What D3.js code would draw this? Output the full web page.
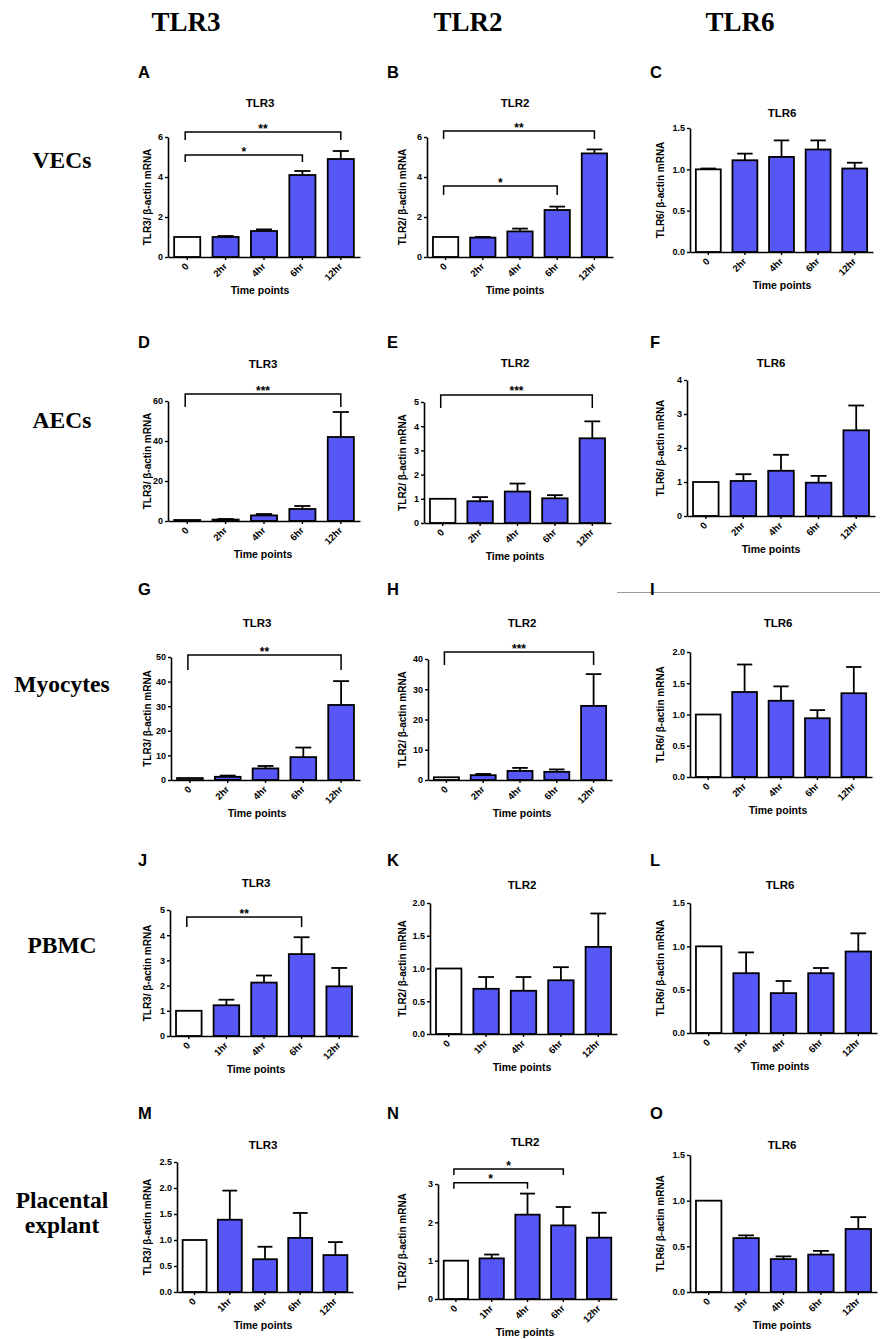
<!DOCTYPE html>
<html><head><meta charset="utf-8">
<script src="https://cdn.jsdelivr.net/npm/d3@7"></script>
<style>body{margin:0;background:#fff}svg{display:block}</style>
</head><body>
<svg id="fig" width="880" height="1339"></svg>
<script>
// ---------------- DATA ----------------
const columnHeaders = ["TLR3", "TLR2", "TLR6"];
const rowLabels = [["VECs"], ["AECs"], ["Myocytes"], ["PBMC"], ["Placental", "explant"]];
const timesEarly = ["0", "2hr", "4hr", "6hr", "12hr"];
const timesLate = ["0", "1hr", "4hr", "6hr", "12hr"];
const panelIds = ["A","B","C","D","E","F","G","H","I","J","K","L","M","N","O"];
const panelTitles = ["TLR3","TLR2","TLR6","TLR3","TLR2","TLR6","TLR3","TLR2","TLR6","TLR3","TLR2","TLR6","TLR3","TLR2","TLR6"];
const yLabels = {TLR3: "TLR3/ β-actin mRNA", TLR2: "TLR2/ β-actin mRNA", TLR6: "TLR6/ β-actin mRNA"};
const xTitle = "Time points";

// y tick values per panel
const ticksA = [0, 2, 4, 6];
const ticksB = [0, 2, 4, 6];
const ticksC = [0, 0.5, 1.0, 1.5];
const ticksD = [0, 20, 40, 60];
const ticksE = [0, 1, 2, 3, 4, 5];
const ticksF = [0, 1, 2, 3, 4];
const ticksG = [0, 10, 20, 30, 40, 50];
const ticksH = [0, 10, 20, 30, 40];
const ticksI = [0, 0.5, 1.0, 1.5, 2.0];
const ticksJ = [0, 1, 2, 3, 4, 5];
const ticksK = [0, 0.5, 1.0, 1.5, 2.0];
const ticksL = [0, 0.5, 1.0, 1.5];
const ticksM = [0, 0.5, 1.0, 1.5, 2.0, 2.5];
const ticksN = [0, 1, 2, 3];
const ticksO = [0, 0.5, 1.0, 1.5];

// mean values (fold change) and SEM per panel
const meanA = [1.0, 1.0, 1.3, 4.1, 4.9];     const semA = [0, 0.05, 0.08, 0.2, 0.4];
const meanB = [1.0, 0.97, 1.28, 2.35, 5.18]; const semB = [0, 0.03, 0.14, 0.17, 0.2];
const meanC = [1.0, 1.11, 1.15, 1.24, 1.01]; const semC = [0.01, 0.08, 0.2, 0.11, 0.07];
const meanD = [0.5, 0.7, 2.8, 6.0, 42.0];    const semD = [0, 0.3, 0.7, 1.5, 12.5];
const meanE = [1.0, 0.9, 1.3, 1.02, 3.5];    const semE = [0, 0.17, 0.33, 0.13, 0.7];
const meanF = [1.0, 1.03, 1.33, 0.98, 2.52]; const semF = [0, 0.2, 0.47, 0.2, 0.73];
const meanG = [0.8, 1.3, 4.7, 9.3, 30.5];    const semG = [0, 0.5, 1.0, 3.9, 9.7];
const meanH = [0.9, 1.6, 3.0, 2.7, 24.5];    const semH = [0, 0.4, 1.0, 0.8, 10.5];
const meanI = [1.0, 1.36, 1.22, 0.94, 1.34]; const semI = [0, 0.44, 0.23, 0.13, 0.42];
const meanJ = [1.0, 1.22, 2.12, 3.25, 1.97]; const semJ = [0, 0.22, 0.28, 0.67, 0.73];
const meanK = [1.0, 0.69, 0.66, 0.82, 1.33]; const semK = [0, 0.18, 0.21, 0.2, 0.51];
const meanL = [1.0, 0.69, 0.46, 0.69, 0.94]; const semL = [0, 0.24, 0.14, 0.06, 0.21];
const meanM = [1.0, 1.39, 0.63, 1.04, 0.71]; const semM = [0, 0.56, 0.24, 0.48, 0.25];
const meanN = [1.0, 1.06, 2.2, 1.92, 1.6];   const semN = [0, 0.1, 0.55, 0.48, 0.65];
const meanO = [1.0, 0.59, 0.36, 0.41, 0.69]; const semO = [0, 0.03, 0.03, 0.04, 0.13];

// significance brackets: [from index, to index, label, level (y units)]
const sigA = [[0, 4, "**", 6.25], [0, 3, "*", 5.1]];
const sigB = [[0, 4, "**", 6.3], [0, 3, "*", 3.55]];
const sigD = [[0, 4, "***", 63.5]];
const sigE = [[0, 4, "***", 5.29]];
const sigG = [[0, 4, "**", 50.8]];
const sigH = [[0, 4, "***", 42.3]];
const sigJ = [[0, 3, "**", 4.72]];
const sigN = [[0, 3, "*", 3.39], [0, 2, "*", 3.03]];

// ---------------- LAYOUT (pixel frames) ----------------
const frames = {
  A: {x0:168, x1:360, yTop:137, yBase:257, tx:260, ty:103, drop:[8,7]},
  B: {x0:427, x1:613, yTop:137, yBase:257, tx:515, ty:103, drop:[8,9]},
  C: {x0:690, x1:873, yTop:128, yBase:252, tx:782, ty:113},
  D: {x0:168, x1:360, yTop:401, yBase:521, tx:263, ty:364, drop:[13]},
  E: {x0:424, x1:611, yTop:402, yBase:523, tx:515, ty:363, drop:[13]},
  F: {x0:687, x1:875, yTop:380, yBase:516, tx:771, ty:363},
  G: {x0:171, x1:360, yTop:657, yBase:780, tx:257, ty:623, drop:[15]},
  H: {x0:428, x1:612, yTop:659, yBase:780, tx:522, ty:623, drop:[13]},
  I: {x0:690, x1:872, yTop:652, yBase:777, tx:778, ty:623},
  J: {x0:170, x1:358, yTop:910, yBase:1036, tx:256, ty:883, drop:[10]},
  K: {x0:430, x1:617, yTop:903, yBase:1034, tx:522, ty:885},
  L: {x0:690, x1:877, yTop:903, yBase:1033, tx:780, ty:885},
  M: {x0:177, x1:353, yTop:1162, yBase:1292, tx:263, ty:1145},
  N: {x0:438, x1:617, yTop:1184, yBase:1299, tx:525, ty:1142, drop:[6,6]},
  O: {x0:690, x1:877, yTop:1155, yBase:1292, tx:782, ty:1145}
};
const letterX = [138, 387, 650];
const letterY = [78, 348, 595, 866, 1119];
const yLabelX = [147, 402, 660];
const headerX = [186, 468, 740];
const rowLabelY = [[168], [428], [692], [953], [1208, 1233]];

const BLUE = "#5757f7";
const SANS = "Arial, 'Liberation Sans', Helvetica, sans-serif";
const SERIF = "'Times New Roman', 'Liberation Serif', serif";

// ---------------- BUILD ----------------
const dataMap = {
  A:[meanA,semA,ticksA,sigA], B:[meanB,semB,ticksB,sigB], C:[meanC,semC,ticksC,[]],
  D:[meanD,semD,ticksD,sigD], E:[meanE,semE,ticksE,sigE], F:[meanF,semF,ticksF,[]],
  G:[meanG,semG,ticksG,sigG], H:[meanH,semH,ticksH,sigH], I:[meanI,semI,ticksI,[]],
  J:[meanJ,semJ,ticksJ,sigJ], K:[meanK,semK,ticksK,[]], L:[meanL,semL,ticksL,[]],
  M:[meanM,semM,ticksM,[]], N:[meanN,semN,ticksN,sigN], O:[meanO,semO,ticksO,[]]
};

const svg = d3.select("#fig");
svg.append("rect").attr("width", 880).attr("height", 1339).attr("fill", "#fff");

svg.selectAll("text.colhead").data(columnHeaders).join("text")
  .attr("class", "colhead")
  .attr("x", (d, i) => headerX[i]).attr("y", 31)
  .attr("text-anchor", "middle")
  .style("font-family", SERIF).style("font-weight", "bold").style("font-size", "27px")
  .text(d => d);

rowLabels.forEach((lines, r) => {
  lines.forEach((t, k) => {
    svg.append("text")
      .attr("x", 62).attr("y", rowLabelY[r][k])
      .attr("text-anchor", "middle")
      .style("font-family", SERIF).style("font-weight", "bold").style("font-size", "23.5px")
      .text(t);
  });
});

svg.append("line").attr("x1", 617).attr("x2", 880).attr("y1", 592.5).attr("y2", 592.5)
  .attr("stroke", "#9a9a9a").attr("stroke-width", 1);

panelIds.forEach((id, p) => {
  const f = frames[id];
  const [mean, sem, ticks, sig] = dataMap[id];
  const row = Math.floor(p / 3), col = p % 3;
  const cats = row < 3 ? timesEarly : timesLate;
  const decimals = ticks.some(t => t % 1 !== 0);
  const fmt = decimals ? d3.format(".1f") : d3.format("d");

  const x = d3.scaleBand().domain(cats).range([f.x0, f.x1]).paddingInner(0.32).paddingOuter(0.16);
  const y = d3.scaleLinear().domain([0, ticks[ticks.length - 1]]).range([f.yBase, f.yTop]);
  const g = svg.append("g");

  g.append("text").attr("x", letterX[col]).attr("y", letterY[row])
    .style("font-family", SANS).style("font-weight", "bold").style("font-size", "16.5px")
    .text(id);

  g.append("text").attr("x", f.tx).attr("y", f.ty + 4).attr("text-anchor", "middle")
    .style("font-family", SANS).style("font-weight", "bold").style("font-size", "11.5px")
    .text(panelTitles[p]);

  const pts = cats.map((c, i) => ({c, i, m: mean[i], s: sem[i]}));

  g.selectAll("rect.bar").data(pts).join("rect").attr("class", "bar")
    .attr("x", d => x(d.c)).attr("y", d => y(d.m))
    .attr("width", x.bandwidth()).attr("height", d => y(0) - y(d.m))
    .attr("fill", d => d.i === 0 ? "#fff" : BLUE)
    .attr("stroke", "#000").attr("stroke-width", 1.8);

  const cap = x.bandwidth() * 0.62;
  const eb = g.selectAll("g.err").data(pts.filter(d => d.s > 0)).join("g").attr("class", "err");
  eb.append("line")
    .attr("x1", d => x(d.c) + x.bandwidth() / 2).attr("x2", d => x(d.c) + x.bandwidth() / 2)
    .attr("y1", d => y(d.m)).attr("y2", d => y(d.m + d.s))
    .attr("stroke", "#000").attr("stroke-width", 1.8);
  eb.append("line")
    .attr("x1", d => x(d.c) + x.bandwidth() / 2 - cap / 2).attr("x2", d => x(d.c) + x.bandwidth() / 2 + cap / 2)
    .attr("y1", d => y(d.m + d.s)).attr("y2", d => y(d.m + d.s))
    .attr("stroke", "#000").attr("stroke-width", 1.8);

  const ya = g.append("g").attr("transform", `translate(${f.x0},0)`)
    .call(d3.axisLeft(y).tickValues(ticks).tickFormat(fmt).tickSize(3).tickSizeOuter(0).tickPadding(2));
  ya.select(".domain").attr("stroke-width", 1.6);
  ya.selectAll(".tick line").attr("stroke-width", 1.4);
  ya.selectAll(".tick text").style("font-family", SANS).style("font-weight", "bold").style("font-size", "9px");

  const xa = g.append("g").attr("transform", `translate(0,${f.yBase})`)
    .call(d3.axisBottom(x).tickSize(3).tickSizeOuter(0));
  xa.select(".domain").attr("stroke-width", 1.6);
  xa.selectAll(".tick line").attr("stroke-width", 1.4);
  xa.selectAll(".tick text")
    .attr("x", 0).attr("y", 0).attr("dy", 0)
    .attr("text-anchor", "end")
    .attr("transform", "translate(2,10) rotate(-45)")
    .style("font-family", SANS).style("font-weight", "bold").style("font-size", "9.5px");

  g.append("text")
    .attr("transform", `translate(${yLabelX[col]},${(f.yTop + f.yBase) / 2}) rotate(-90)`)
    .attr("text-anchor", "middle").attr("dominant-baseline", "central")
    .style("font-family", SANS).style("font-weight", "bold").style("font-size", "10px")
    .text(yLabels[panelTitles[p]]);

  g.append("text").attr("x", f.tx).attr("y", f.yBase + 37).attr("text-anchor", "middle")
    .style("font-family", SANS).style("font-weight", "bold").style("font-size", "10.5px")
    .text(xTitle);

  sig.forEach((s, k) => {
    const [a, b, lab, lvl] = s;
    const xa1 = x(cats[a]) + x.bandwidth() / 2 - 2;
    const xb1 = x(cats[b]) + x.bandwidth() / 2;
    const yy = y(lvl);
    const dr = f.drop[k];
    g.append("path")
      .attr("d", `M${xa1},${yy + dr}V${yy}H${xb1}V${yy + dr}`)
      .attr("fill", "none").attr("stroke", "#000").attr("stroke-width", 1.5);
    g.append("text").attr("x", (xa1 + xb1) / 2).attr("y", yy + 0.5).attr("text-anchor", "middle")
      .style("font-family", SANS).style("font-weight", "bold").style("font-size", "12px")
      .text(lab);
  });
});
</script>
</body></html>
